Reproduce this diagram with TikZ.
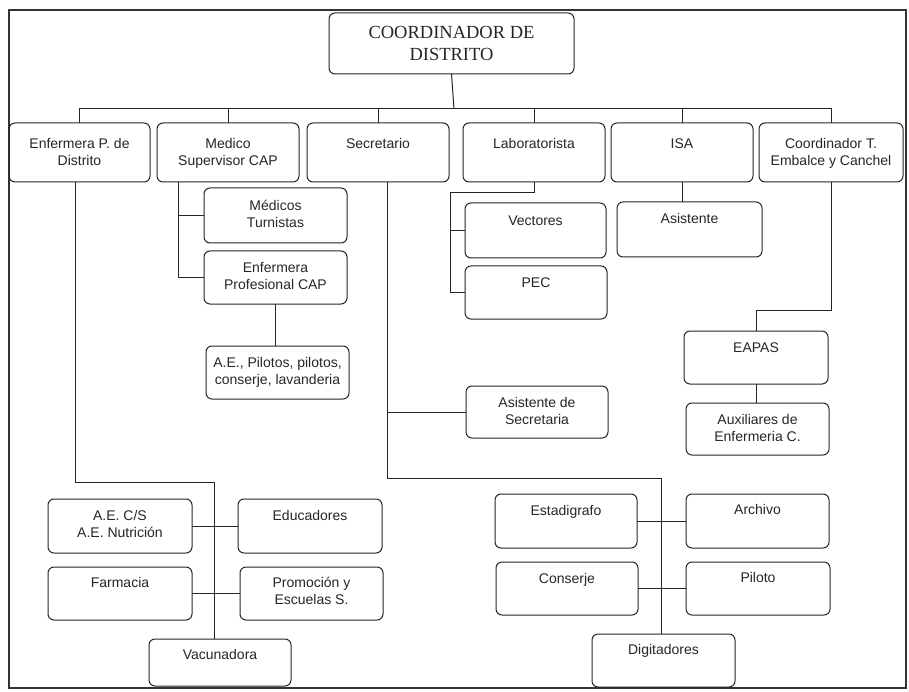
\documentclass[tikz,border=0pt]{standalone}
\usepackage{fontspec}
\setmainfont{Liberation Sans}
\newfontfamily\serifttl{Liberation Serif}
\usetikzlibrary{fit}
\tikzset{
  boxst/.style={draw=black!85, line width=1pt, rounded corners=6pt, inner sep=0pt, outer sep=0pt},
  txt/.style={font=\fontsize{14}{17}\selectfont, align=center, inner sep=0pt, anchor=north, text=black!85},
  conn/.style={draw=black!85, line width=1pt},
  frame/.style={draw=black!80, line width=1.2pt},
}
\newcommand\obox[7]{%
  \node[boxst, fit={(#2,#3) (#4,#5)}] (#1) {};
  \node[txt] (#1-t) at ([yshift=-#7pt]#1.north) {\strut #6};
}
\begin{document}
\begin{tikzpicture}[x=1pt,y=-1pt]
\useasboundingbox (0,0) rectangle (909,692);
\fill[white] (0,0) rectangle (909,692);
\draw[frame] (9,10) rectangle (906,688);

% top
\node[boxst, fit={(329,13) (574,74)}] (top) {};
\node[font=\serifttl\fontsize{18.5}{22}\selectfont, align=center, text=black!85] (top-t) at (top.center) {COORDINADOR DE\\DISTRITO};

% row 1
\obox{enf}{9}{123}{150}{182}{Enfermera P. de\\Distrito}{13}
\obox{med}{157}{123}{299}{182}{Medico\\Supervisor CAP}{13}
\obox{sec}{307}{123}{449}{182}{Secretario}{13}
\obox{lab}{463}{123}{605}{182}{Laboratorista}{13}
\obox{isa}{611}{123}{753}{182}{ISA}{13}
\obox{coo}{759}{123}{903}{182}{Coordinador T.\\Embalce y Canchel}{13}

% medico children
\obox{mt}{204}{188}{347}{243}{Médicos\\Turnistas}{10}
\obox{ep}{204}{251}{347}{304}{Enfermera\\Profesional CAP}{9.5}
\obox{ae}{206}{346}{349}{399}{A.E., Pilotos, pilotos,\\conserje, lavanderia}{9.5}

% laboratorista children
\obox{vec}{465}{203}{606}{258}{Vectores}{10}
\obox{pec}{465}{266}{607}{319}{PEC}{9.5}

% ISA child
\obox{asis}{617}{202}{762}{257}{Asistente}{9.5}

% coordinador children
\obox{eap}{684}{331}{828}{384}{EAPAS}{9.5}
\obox{aux}{686}{403}{829}{455}{Auxiliares de\\Enfermeria C.}{9.5}

% secretario children
\obox{asec}{466}{386}{608}{438}{Asistente de\\Secretaria}{9.5}
\obox{est}{495}{494}{637}{548}{Estadigrafo}{9.5}
\obox{arc}{686}{494}{829}{548}{Archivo}{8.5}
\obox{con}{496}{562}{638}{615}{Conserje}{9.5}
\obox{pil}{686}{562}{830}{615}{Piloto}{8.5}
\obox{dig}{592}{634}{735}{687}{Digitadores}{8.5}

% enfermera children
\obox{aec}{48}{499}{192}{553}{A.E. C/S\\A.E. Nutrición}{9.5}
\obox{edu}{238}{499}{382}{553}{Educadores}{9}
\obox{far}{48}{567}{192}{620}{Farmacia}{8.5}
\obox{pro}{240}{567}{383}{620}{Promoción y\\Escuelas S.}{8.5}
\obox{vac}{149}{639}{291}{686}{Vacunadora}{8.5}

% connectors: top level
\coordinate (bus) at (454,109);
\draw[conn] (top.south) -- (bus);
\foreach \n in {enf,med,sec,lab,isa,coo}
  \draw[conn] (\n.north) |- (bus);

% medico
\coordinate (medv) at (178,182);
\draw[conn] (medv) |- (mt.west);
\draw[conn] (medv) |- (ep.west);
\draw[conn] (ep.south) -- (ep.south |- ae.north);

% laboratorista
\coordinate (labj) at (450,193);
\draw[conn] (lab.south) |- (labj) |- (pec.west);
\draw[conn] (labj) |- (vec.west);

% ISA
\draw[conn] (isa.south) -- (isa.south |- asis.north);

% coordinador
\coordinate (eapj) at (756,310);
\draw[conn] (coo.south) |- (eapj) -- (eapj |- eap.north);
\draw[conn] (eapj |- eap.south) -- (eapj |- aux.north);

% secretario
\coordinate (secv) at (387,182);
\coordinate (digj) at (661,478);
\draw[conn] (secv) |- (digj) -- (digj |- dig.north);
\draw[conn] (secv |- asec.west) -- (asec.west);
\draw[conn] (est.east) -- (arc.west);
\draw[conn] (con.east) -- (pil.west);

% enfermera
\coordinate (enfv) at (75,182);
\coordinate (vacj) at (214,482);
\draw[conn] (enfv) |- (vacj) -- (vacj |- vac.north);
\draw[conn] (aec.east) -- (edu.west);
\draw[conn] (far.east) -- (pro.west);
\end{tikzpicture}
\end{document}
